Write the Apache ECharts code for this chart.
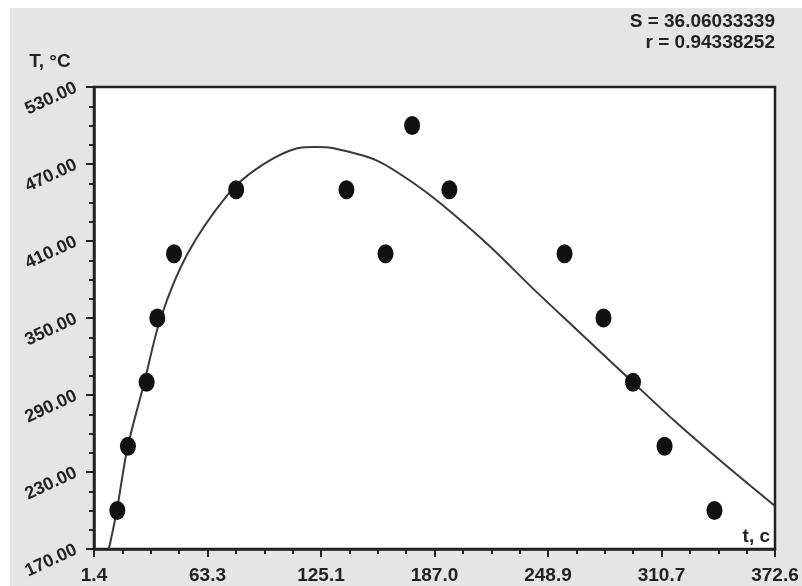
<!DOCTYPE html>
<html>
<head>
<meta charset="utf-8">
<script src="https://cdn.jsdelivr.net/npm/echarts@6/dist/echarts.min.js"></script>
<style>
  html, body { margin: 0; padding: 0; background: #fff; }
  #chart { width: 802px; height: 586px; }
</style>
</head>
<body>
<div id="chart"></div>
<script>
// measured points, t in s, T in °C
const pointT = [14.1, 19.9, 30.1, 35.9, 45.0, 78.9, 139.0, 160.3, 174.8, 195.1, 257.9, 279.1, 295.2, 312.4, 339.6];
const pointTemp = [200, 250, 300, 350, 400, 450, 450, 400, 500, 450, 400, 350, 300, 250, 200];

// fitted curve
const curveT = [9.5, 13.8, 19.6, 28.6, 37.7, 52.3, 74.1, 90.4, 112.2, 122.2, 132.1, 155.9, 175.7, 190.2, 217.4, 241.0, 262.8, 291.9, 317.3, 344.5, 372.6];
const curveTemp = [170, 199.6, 248.5, 298.6, 349.8, 399.9, 445.8, 466.6, 482.2, 483.2, 482.2, 472.5, 455.0, 439.4, 405.6, 372.5, 343.2, 304.3, 270.5, 236.8, 203.5];

const xTickLabels = ['1.4', '63.3', '125.1', '187.0', '248.9', '310.7', '372.6'];
const yTickLabels = ['170.00', '230.00', '290.00', '350.00', '410.00', '470.00', '530.00'];

const X_MIN = 1.4, X_MAX = 372.6;
const Y_MIN = 170, Y_MAX = 530;

const statS = 'S = 36.06033339';
const statR = 'r = 0.94338252';

const INK = '#222';
const FONT = 'Liberation Sans, Arial, sans-serif';

const chart = echarts.init(document.getElementById('chart'));

const tickAxis = {
  axisLine: { show: true, lineStyle: { color: INK, width: 2.5 } },
  axisTick: { show: true, length: 8, lineStyle: { color: INK, width: 2 } },
  minorTick: { show: true, splitNumber: 4, length: 5, lineStyle: { color: INK, width: 2 } },
  splitLine: { show: false },
  minorSplitLine: { show: false },
};

chart.setOption({
  animation: false,
  backgroundColor: '#e5e5e5',
  grid: {
    left: 94, right: 27, top: 87, bottom: 37,
    show: true,
    backgroundColor: '#fff',
    borderColor: INK,
    borderWidth: 2.5,
  },
  xAxis: [
    // data axis, hidden
    { type: 'value', min: X_MIN, max: X_MAX, show: false },
    // display axis (ticks start at 1.4)
    {
      type: 'value', position: 'bottom',
      min: 0, max: X_MAX - X_MIN, interval: (X_MAX - X_MIN) / 6,
      ...tickAxis,
      axisLabel: {
        margin: 17, color: INK, fontSize: 19, fontWeight: 'bold', fontFamily: FONT,
        verticalAlign: 'top',
        formatter: (v, i) => xTickLabels[i],
      },
    },
  ],
  yAxis: [
    { type: 'value', min: Y_MIN, max: Y_MAX, show: false },
    {
      type: 'value', position: 'left',
      min: 0, max: Y_MAX - Y_MIN, interval: 60,
      ...tickAxis,
      axisLabel: {
        margin: 18, rotate: 25, color: INK, fontSize: 18, fontWeight: 'bold', fontFamily: FONT,
        formatter: (v, i) => yTickLabels[i],
      },
    },
  ],
  graphic: [
    { type: 'rect', left: 0, top: 0, shape: { width: 10, height: 586 }, style: { fill: '#fff' }, z: 0 },
    { type: 'rect', left: 0, top: 0, shape: { width: 802, height: 8 }, style: { fill: '#fff' }, z: 0 },
    { type: 'text', x: 50, y: 62, style: { text: 'T, °C', font: 'bold 19px ' + FONT, fill: INK, textAlign: 'center', textVerticalAlign: 'middle' } },
    { type: 'text', x: 770, y: 537, style: { text: 't, c', font: 'bold 19px ' + FONT, fill: INK, textAlign: 'right', textVerticalAlign: 'middle' } },
    { type: 'text', x: 775, y: 22, style: { text: statS, font: 'bold 19px ' + FONT, fill: INK, textAlign: 'right', textVerticalAlign: 'middle' } },
    { type: 'text', x: 775, y: 43, style: { text: statR, font: 'bold 19px ' + FONT, fill: INK, textAlign: 'right', textVerticalAlign: 'middle' } },
  ],
  series: [
    {
      type: 'line',
      xAxisIndex: 0, yAxisIndex: 0,
      data: curveT.map((t, i) => [t, curveTemp[i]]),
      showSymbol: false,
      smooth: 0.3,
      clip: true,
      lineStyle: { color: '#3a3a3a', width: 2 },
      z: 2,
    },
    {
      type: 'scatter',
      xAxisIndex: 0, yAxisIndex: 0,
      data: pointT.map((t, i) => [t, pointTemp[i]]),
      symbol: 'circle',
      symbolSize: [16, 19],
      itemStyle: { color: '#111', opacity: 1 },
      z: 3,
    },
  ],
});
</script>
</body>
</html>
